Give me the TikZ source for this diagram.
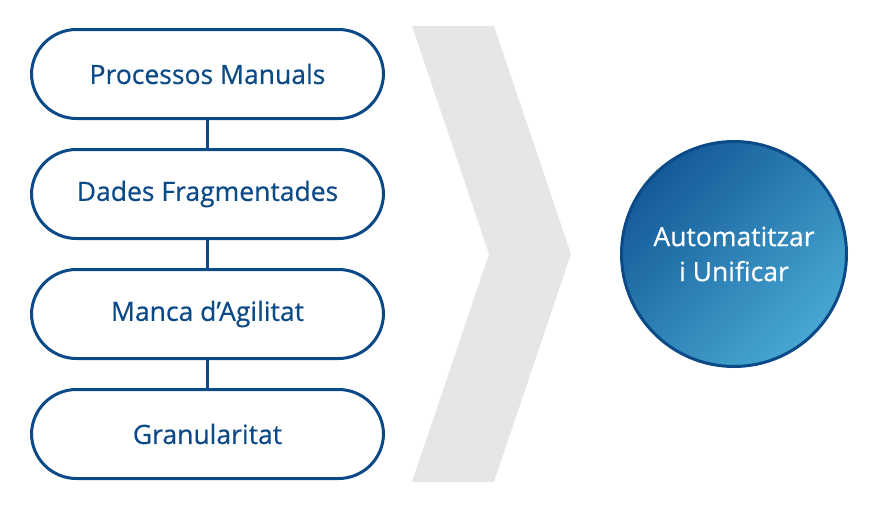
\documentclass[tikz,border=0pt]{standalone}
\usepackage{fontspec}
\setmainfont{Open Sans}[FakeBold=0.5]
\definecolor{navy}{HTML}{0B4A87}
\definecolor{gdark}{HTML}{145A98}
\definecolor{glight}{HTML}{48A8D2}
\definecolor{chev}{HTML}{E6E6E6}
\begin{document}
\begin{tikzpicture}[x=1pt,y=-1pt,
  pill/.style={draw=navy, line width=3pt, fill=white, rounded corners=45pt,
    minimum width=352pt, minimum height=89pt, inner sep=0pt,
    font=\fontsize{26.5}{30}\selectfont, text=navy},
  link/.style={draw=navy, line width=3pt}]
\useasboundingbox (0,0) rectangle (887,512);
\fill[chev] (412,26) -- (494,26) -- (571,254) -- (494,482) -- (412,482) -- (489,254) -- cycle;
\node[pill] (b1) at (207.5,74) {Processos Manuals};
\node[pill] (b2) at (207.5,194) {Dades Fragmentades};
\node[pill] (b3) at (207.5,314) {Manca d’Agilitat};
\node[pill] (b4) at (207.5,434) {Granularitat};
\draw[link] (b1.south) -- (b2.north);
\draw[link] (b2.south) -- (b3.north);
\draw[link] (b3.south) -- (b4.north);
\node[circle, draw=navy, line width=3pt, minimum size=225pt, inner sep=0pt,
  top color=gdark, bottom color=glight, shading angle=45,
  text=white, align=center, font=\fontsize{26.5}{35}\selectfont] (c) at (734,254)
  {Automatitzar\\i Unificar};
\end{tikzpicture}
\end{document}
